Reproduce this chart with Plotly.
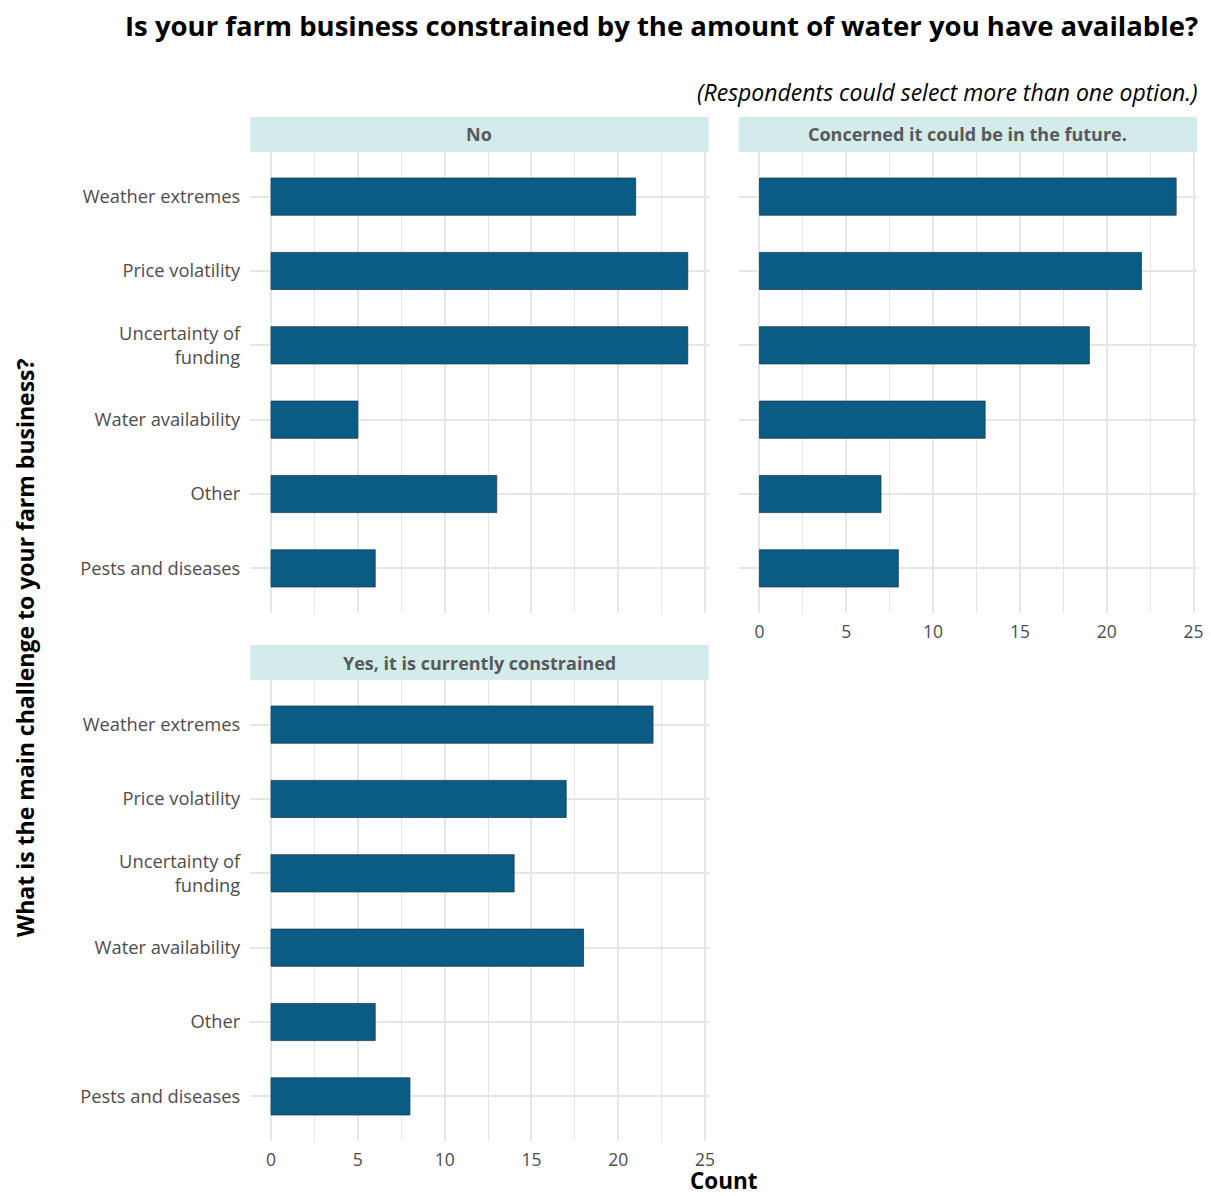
import plotly.graph_objects as go

categories = ["Weather extremes", "Price volatility", "Uncertainty of<br>funding",
              "Water availability", "Other", "Pests and diseases"]
panels = ["No", "Concerned it could be in the future.", "Yes, it is currently constrained"]
values_no = [21, 24, 24, 5, 13, 6]
values_concerned = [24, 22, 19, 13, 7, 8]
values_yes = [22, 17, 14, 18, 6, 8]
x_ticks = [0, 5, 10, 15, 20, 25]

W, H = 1211, 1196
XSPAN = 1203  # effective rendered width observed in the screenshot
BAR = "#0a5c85"
GRID = "#e6e6e6"
FONT = "Open Sans"

def px_x(p):
    return p / XSPAN

def px_y(p):
    return 1 - p / H

# panel geometry (pixels in final screenshot)
col_x = [(250, 708), (738, 1196), (250, 708)]
row_y = [(152, 613), (152, 613), (680, 1141)]
strip_y = [(117, 152), (117, 152), (645, 680)]

fig = go.Figure()
series = [values_no, values_concerned, values_yes]
for i, vals in enumerate(series):
    sfx = "" if i == 0 else str(i + 1)
    fig.add_trace(go.Bar(
        y=categories, x=vals, orientation="h", width=0.5,
        marker=dict(color=BAR, line=dict(color="#1f3b4d", width=0.8)),
        xaxis="x" + sfx, yaxis="y" + sfx, showlegend=False,
        hoverinfo="x+y",
    ))
    x0, x1 = col_x[i]
    y0, y1 = row_y[i]
    show_x = i in (1, 2)
    show_y = i in (0, 2)
    fig.layout["xaxis" + sfx] = dict(
        domain=[px_x(x0), px_x(x1)], anchor="y" + sfx, range=[-1.2, 25.2],
        tickvals=x_ticks, showticklabels=show_x, showgrid=True, gridcolor=GRID,
        gridwidth=1.5, zeroline=False, ticks="", showline=False,
        ticklabelstandoff=6,
        minor=dict(dtick=2.5, tick0=0, showgrid=True, gridcolor=GRID, gridwidth=1),
        tickfont=dict(family=FONT, size=17.5, color="#4d4d4d"), fixedrange=True,
    )
    fig.layout["yaxis" + sfx] = dict(
        domain=[px_y(y1), px_y(y0)], anchor="x" + sfx, type="category",
        categoryorder="array", categoryarray=categories[::-1],
        range=[-0.6, 5.6], showticklabels=show_y, showgrid=True, gridcolor=GRID,
        gridwidth=1.5, zeroline=False, ticks="", showline=False,
        ticklabelstandoff=9,
        tickfont=dict(family=FONT, size=18.3, color="#4d4d4d"), fixedrange=True,
    )
    # strip
    sy0, sy1 = strip_y[i]
    fig.add_shape(type="rect", xref="paper", yref="paper",
                  x0=px_x(x0), x1=px_x(x1), y0=px_y(sy1), y1=px_y(sy0),
                  fillcolor="#d4ebeb", line=dict(width=0), layer="below")
    fig.add_annotation(x=px_x((x0 + x1) / 2), y=px_y((sy0 + sy1) / 2),
                       xref="paper", yref="paper", text="<b>" + panels[i] + "</b>",
                       showarrow=False, font=dict(family=FONT, size=18, color="#595959"),
                       xanchor="center", yanchor="middle")

# titles
fig.add_annotation(x=px_x(1199), y=px_y(26), xref="paper", yref="paper",
                   text="<b>Is your farm business constrained by the amount of water you have available?</b>",
                   showarrow=False, xanchor="right", yanchor="middle",
                   font=dict(family=FONT, size=27.5, color="#000000"))
fig.add_annotation(x=px_x(1199), y=px_y(92), xref="paper", yref="paper",
                   text="<i>(Respondents could select more than one option.)</i>",
                   showarrow=False, xanchor="right", yanchor="middle",
                   font=dict(family=FONT, size=23, color="#000000"))
fig.add_annotation(x=px_x(723), y=px_y(1180), xref="paper", yref="paper",
                   text="<b>Count</b>", showarrow=False, xanchor="center", yanchor="middle",
                   font=dict(family=FONT, size=22.5, color="#000000"))
fig.add_annotation(x=px_x(25), y=px_y(648), xref="paper", yref="paper",
                   text="<b>What is the main challenge to your farm business?</b>",
                   showarrow=False, textangle=-90, xanchor="center", yanchor="middle",
                   font=dict(family=FONT, size=23, color="#000000"))

fig.update_layout(width=W, height=H, margin=dict(l=0, r=0, t=0, b=0),
                  paper_bgcolor="white", plot_bgcolor="white",
                  font=dict(family=FONT), bargap=0.5)

fig.write_html("out.html", config={"displayModeBar": False},
               post_script="document.body.style.margin='0px';document.body.style.overflow='hidden';")
